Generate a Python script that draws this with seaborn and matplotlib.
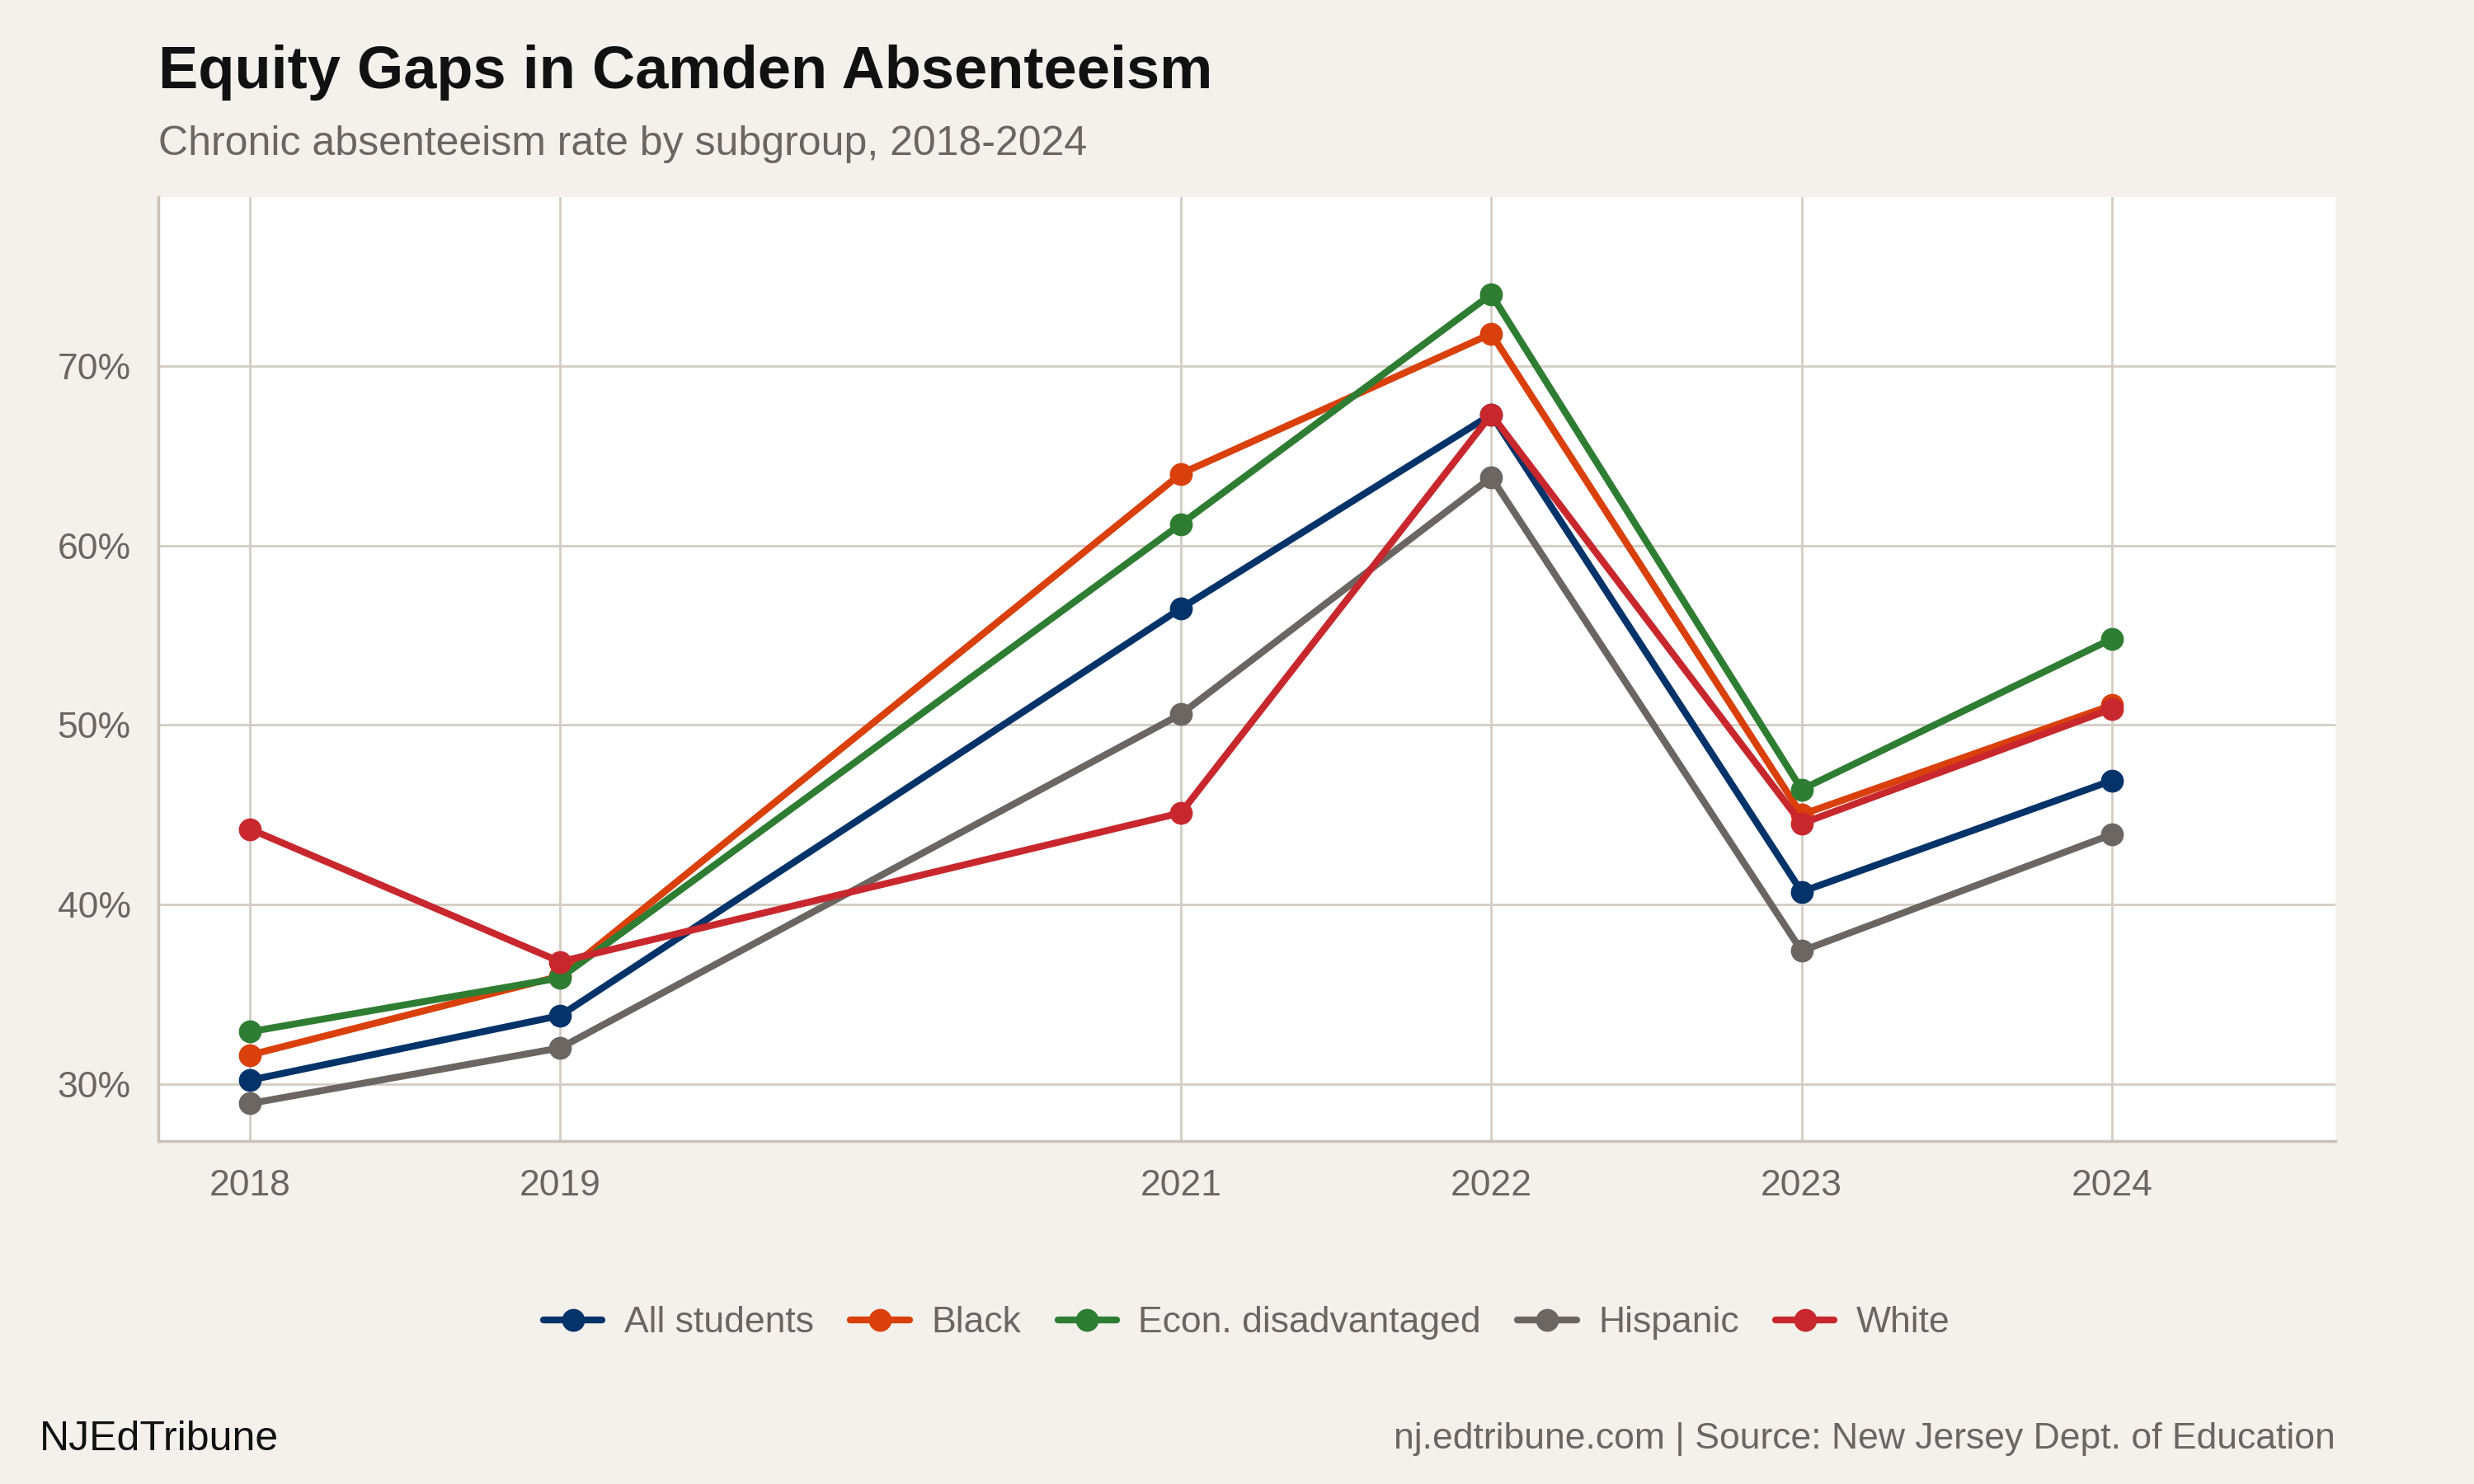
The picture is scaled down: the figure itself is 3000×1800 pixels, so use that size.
import numpy as np
import pandas as pd
import matplotlib
matplotlib.use("Agg")
import matplotlib.pyplot as plt
import seaborn as sns
from matplotlib.ticker import FuncFormatter

years = [2018, 2019, 2021, 2022, 2023, 2024]
all_students = [30.2, 33.8, 56.5, 67.3, 40.7, 46.9]
black = [31.6, 36.0, 64.0, 71.8, 45.0, 51.1]
econ = [32.9, 35.9, 61.2, 74.0, 46.4, 54.8]
hispanic = [28.9, 32.0, 50.6, 63.8, 37.4, 43.9]
white = [44.2, 36.8, 45.1, 67.3, 44.5, 50.9]

groups = ["All students", "Black", "Econ. disadvantaged", "Hispanic", "White"]
colors = ["#04336A", "#D9400B", "#2E7D32", "#6B6661", "#C8282D"]

df = pd.concat([
    pd.DataFrame({"year": years, "rate": v, "group": g})
    for g, v in zip(groups, [all_students, black, econ, hispanic, white])
])

sns.set_theme(style="white")
plt.rcParams["font.family"] = ["Liberation Sans", "DejaVu Sans"]

bg = "#F4F1EC"
fig = plt.figure(figsize=(15, 9), dpi=200, facecolor=bg)
ax = fig.add_axes([0.064, 0.231, 0.88, 0.636])
ax.set_facecolor("white")

sns.lineplot(data=df, x="year", y="rate", hue="group", hue_order=groups,
             palette=colors, linewidth=3, marker="o", markersize=10,
             markeredgewidth=0, ax=ax)

ax.set_xlim(2017.705, 2024.72)
ax.set_ylim(26.8, 79.4)
ax.set_xticks(years)
ax.set_yticks([30, 40, 50, 60, 70])
ax.yaxis.set_major_formatter(FuncFormatter(lambda v, p: f"{v:.0f}%"))
ax.grid(True, color="#D3CDC3", linewidth=1)
for s in ["top", "right"]:
    ax.spines[s].set_visible(False)
for s in ["left", "bottom"]:
    ax.spines[s].set_color("#C8C2B8")
ax.tick_params(axis="both", labelsize=16, colors="#6B6661", length=0, pad=12)
ax.set_xlabel("")
ax.set_ylabel("")

ax.legend(loc="upper center", bbox_to_anchor=(0.5, -0.14), ncol=5, frameon=False,
          fontsize=16, labelcolor="#6B6661", handlelength=1.6, columnspacing=1.0,
          handletextpad=0.6)

fig.text(0.064, 0.951, "Equity Gaps in Camden Absenteeism", fontsize=26,
         fontweight="bold", color="#111111", va="center")
fig.text(0.064, 0.903, "Chronic absenteeism rate by subgroup, 2018-2024", fontsize=18,
         color="#6B6661", va="center")
fig.text(0.016, 0.03, "NJEdTribune", fontsize=18, color="#111111", va="center")
fig.text(0.944, 0.03, "nj.edtribune.com | Source: New Jersey Dept. of Education",
         fontsize=16, color="#6B6661", va="center", ha="right")

fig.savefig("out.png", dpi=200, facecolor=bg)
